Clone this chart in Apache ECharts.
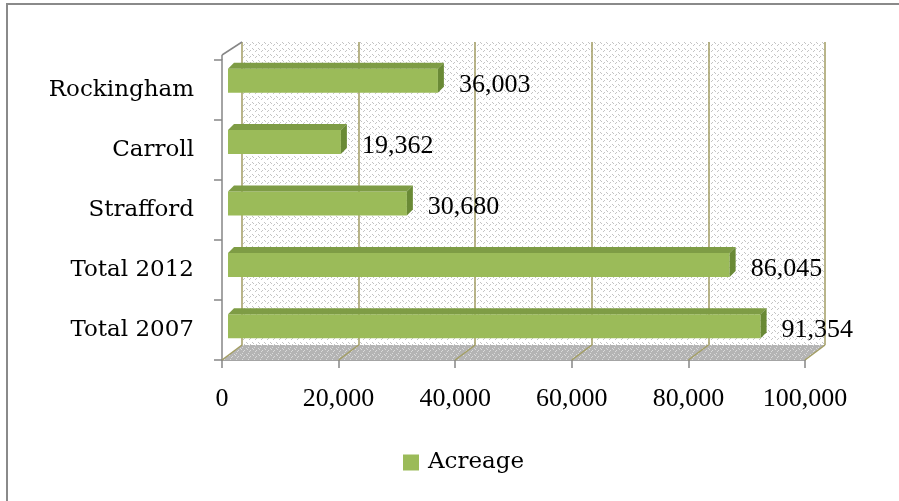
<!DOCTYPE html>
<html>
<head>
<meta charset="utf-8">
<script src="https://cdn.jsdelivr.net/npm/echarts@6/dist/echarts.min.js"></script>
<style>
  html, body { margin: 0; padding: 0; background: #fff; }
  #chart { width: 899px; height: 501px; }
</style>
</head>
<body>
<div id="chart"></div>
<script>
// Acreage per county, with state totals
const categories = ['Rockingham', 'Carroll', 'Strafford', 'Total 2012', 'Total 2007'];
const acreage = [36003, 19362, 30680, 86045, 91354];
const axisTicks = [0, 20000, 40000, 60000, 80000, 100000];
const seriesName = 'Acreage';

const FONT = '"Liberation Serif", "Times New Roman", serif';
const WORD_FONT = '"DejaVu Serif", serif';
const GREEN = '#9BBB59';
const GREEN_TOP = '#7E9C45';
const GREEN_SIDE = '#6A8A36';
const WALL_LINE = '#A29D63';
const AXIS_GRAY = '#868686';

// depth of the 3D box (front edge to back wall) and of each bar
const DEPTH_X = 20, DEPTH_Y = 15;
const BAR_DX = 6, BAR_DY = 6, BAR_H = 24;

function makePattern(bg, dot, size, dots) {
  const c = document.createElement('canvas');
  c.width = size; c.height = size;
  const g = c.getContext('2d');
  g.fillStyle = bg; g.fillRect(0, 0, size, size);
  g.fillStyle = dot;
  dots.forEach(d => g.fillRect(d[0], d[1], 1, 1));
  return c;
}
const wallPattern = makePattern('#ffffff', '#c4c4c4', 6, [[0, 0], [1, 1], [3, 3], [4, 2]]);
const floorPattern = makePattern('#b4b4b4', '#dadada', 6, [[0, 0], [1, 1], [3, 3], [4, 2], [2, 5]]);

const fmt = v => v.toLocaleString('en-US');

const chart = echarts.init(document.getElementById('chart'), null, { renderer: 'canvas' });

chart.setOption({
  animation: false,
  backgroundColor: '#ffffff',
  graphic: [{
    type: 'rect',
    shape: { x: 7, y: 4, width: 1200, height: 1200 },
    style: { fill: 'none', stroke: '#8a8a8a', lineWidth: 2 },
    z: 100
  }],
  legend: {
    left: 403, top: 451,
    padding: 0,
    itemWidth: 16, itemHeight: 16,
    data: [{ name: seriesName, icon: 'rect', itemStyle: { color: GREEN } }],
    textStyle: { fontFamily: WORD_FONT, fontSize: 23, color: '#000', padding: [0, 0, 0, 4] }
  },
  grid: [
    // front axes (labels, ticks, floor edge)
    { left: 222, top: 60, width: 583, height: 300 },
    // back wall with vertical gridlines
    { left: 242, top: 42, width: 583, height: 303, show: true, borderWidth: 0,
      backgroundColor: { image: wallPattern, repeat: 'repeat' } },
    // plane the bars stand in
    { left: 228, top: 50, width: 583, height: 307 }
  ],
  xAxis: [
    { gridIndex: 0, type: 'value', min: 0, max: 100000, interval: 20000,
      axisLine: { show: true, lineStyle: { color: AXIS_GRAY, width: 1.5 } },
      axisTick: { show: true, length: 8, lineStyle: { color: AXIS_GRAY, width: 1.5 } },
      splitLine: { show: false },
      axisLabel: { margin: 26, fontFamily: FONT, fontSize: 26, color: '#000', formatter: v => fmt(v) } },
    { gridIndex: 1, type: 'value', min: 0, max: 100000, interval: 20000,
      axisLine: { show: false }, axisTick: { show: false }, axisLabel: { show: false },
      splitLine: { show: true, lineStyle: { color: WALL_LINE, width: 1.5 } } },
    { gridIndex: 2, type: 'value', min: 0, max: 100000, show: false }
  ],
  yAxis: [
    { gridIndex: 0, type: 'category', inverse: true, data: categories,
      axisLine: { show: true, lineStyle: { color: AXIS_GRAY, width: 1.5 } },
      axisTick: { show: true, length: 8, lineStyle: { color: AXIS_GRAY, width: 1.5 } },
      axisLabel: { margin: 28, fontFamily: WORD_FONT, fontSize: 23, color: '#000',
                   padding: [4, 0, 0, 0] } },
    { gridIndex: 1, type: 'category', inverse: true, data: categories, show: false },
    { gridIndex: 2, type: 'category', inverse: true, data: categories, show: false }
  ],
  series: [
    {
      // floor of the 3D box, with the gridlines running across it
      type: 'custom', name: 'floor', silent: true,
      xAxisIndex: 0, yAxisIndex: 0,
      data: axisTicks.map(v => [v, 0]),
      encode: { x: 0, y: 1 },
      z: 1,
      renderItem: function (params, api) {
        const cs = params.coordSys;
        const yF = cs.y + cs.height;
        const x = api.coord([api.value(0), 0])[0];
        const children = [];
        if (params.dataIndex === 0) {
          const xL = cs.x, xR = cs.x + cs.width;
          children.push({
            type: 'polygon', z2: 0,
            shape: { points: [[xL, yF], [xR, yF], [xR + DEPTH_X, yF - DEPTH_Y], [xL + DEPTH_X, yF - DEPTH_Y]] },
            style: { fill: { image: floorPattern, repeat: 'repeat' } }
          });
          // side wall top edge
          children.push({
            type: 'line', z2: 2,
            shape: { x1: xL, y1: cs.y - 5, x2: xL + DEPTH_X, y2: cs.y - 5 - 13 },
            style: { stroke: AXIS_GRAY, lineWidth: 1.5 }
          });
          children.push({
            type: 'line', z2: 2,
            shape: { x1: xL, y1: cs.y - 5, x2: xL, y2: cs.y },
            style: { stroke: AXIS_GRAY, lineWidth: 1.5 }
          });
        }
        children.push({
          type: 'line', z2: 1,
          shape: { x1: x, y1: yF, x2: x + DEPTH_X, y2: yF - DEPTH_Y },
          style: { stroke: WALL_LINE, lineWidth: 1.5 }
        });
        return { type: 'group', children: children };
      }
    },
    {
      type: 'custom', name: seriesName,
      xAxisIndex: 2, yAxisIndex: 2,
      itemStyle: { color: GREEN },
      data: acreage.map((v, i) => [v, i]),
      encode: { x: 0, y: 1 },
      z: 5,
      renderItem: function (params, api) {
        const v = api.value(0), c = api.value(1);
        const p0 = api.coord([0, c]);
        const p1 = api.coord([v, c]);
        const yT = p0[1] - BAR_H / 2, yB = p0[1] + BAR_H / 2;
        const x0 = p0[0], x1 = p1[0];
        return {
          type: 'group',
          children: [
            { type: 'rect', shape: { x: x0, y: yT, width: x1 - x0, height: BAR_H },
              style: { fill: GREEN } },
            { type: 'polygon',
              shape: { points: [[x0, yT], [x1, yT], [x1 + BAR_DX, yT - BAR_DY], [x0 + BAR_DX, yT - BAR_DY]] },
              style: { fill: GREEN_TOP } },
            { type: 'polygon',
              shape: { points: [[x1, yT], [x1 + BAR_DX, yT - BAR_DY], [x1 + BAR_DX, yB - BAR_DY], [x1, yB]] },
              style: { fill: GREEN_SIDE } },
            { type: 'text',
              style: { text: fmt(v), x: x1 + 21, y: p0[1] + 4, verticalAlign: 'middle',
                       fontFamily: FONT, fontSize: 26, fill: '#000' } }
          ]
        };
      }
    }
  ]
});
</script>
</body>
</html>
